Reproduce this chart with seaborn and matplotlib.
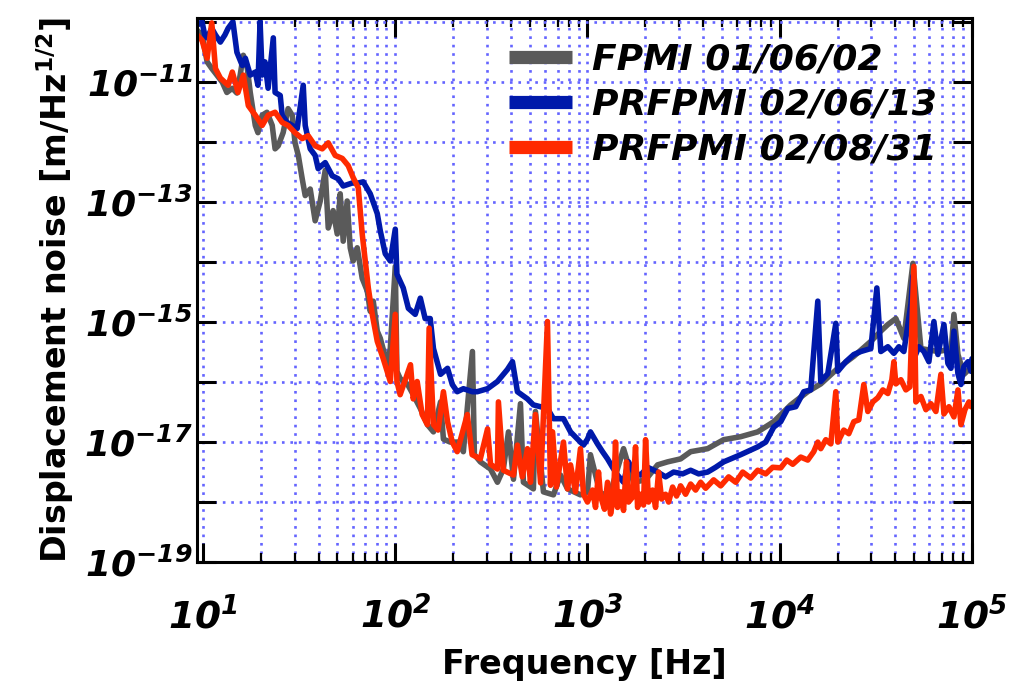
import numpy as np
import pandas as pd
import seaborn as sns
import matplotlib
matplotlib.use("Agg")
import matplotlib.pyplot as plt
from matplotlib import ticker

SERIES = ["FPMI 01/06/02", "PRFPMI 02/06/13", "PRFPMI 02/08/31"]
COLORS = ["#5a5a5a", "#0019aa", "#ff2a00"]

# frequencies in Hz, noise given as log10 of m/Hz^(1/2)
fpmi_freq = [
    9.3, 9.88, 10.5, 11.1, 11.8, 12.6, 13.3, 14.2, 15.0, 15.6, 16.2, 17.0, 17.6, 18.7,
    19.3, 20.3, 21.5, 22.9, 23.7, 24.6, 26.1, 27.7, 29.1, 30.1, 31.3, 32.8, 34.0, 36.1,
    38.3, 40.7, 43.2, 44.8, 47.5, 49.9, 51.7, 53.6, 56.2, 58.3, 60.4, 63.4, 67.3, 71.5,
    74.1, 76.8, 80.6, 83.6, 90.9, 94.2, 100, 102, 106, 116, 124, 135, 147, 158, 172,
    178, 193, 213, 226, 252, 258, 277, 313, 340, 365, 388, 412, 448, 464, 523, 536, 590,
    665, 724, 787, 919, 1000, 1036, 1169, 1318, 1540, 1736, 2005, 2315, 2610, 3051,
    3440, 4217, 5109, 6266, 7680, 9308, 11410, 13990, 16350, 20050, 24290, 29790,
    33570, 36520, 40200, 44240, 49300, 54270, 66510, 78000, 80590, 84560, 90840, 100000,
]
fpmi_log_asd = [
    -10.13, -10.21, -10.66, -10.77, -10.88, -11.00, -11.17, -11.10, -11.18, -10.88,
    -10.55, -10.77, -11.17, -11.72, -11.84, -11.55, -11.50, -11.72, -12.11, -12.06,
    -11.84, -11.44, -11.55, -12.01, -12.22, -12.61, -12.89, -12.78, -13.31, -12.98,
    -12.47, -13.43, -13.14, -13.53, -12.86, -13.65, -12.98, -13.76, -13.98, -13.76,
    -14.27, -14.48, -14.82, -14.65, -15.15, -15.27, -15.71, -15.44, -14.07, -15.82,
    -15.94, -16.04, -16.21, -16.44, -16.71, -16.83, -16.33, -16.95, -17.00, -17.00,
    -17.16, -15.49, -17.21, -17.33, -17.45, -17.67, -17.45, -16.83, -17.62, -16.36,
    -17.67, -17.78, -16.49, -17.83, -17.88, -17.55, -17.78, -17.88, -17.83, -17.21,
    -17.88, -17.83, -17.11, -17.67, -17.63, -17.38, -17.33, -17.28, -17.16, -17.11,
    -16.96, -16.91, -16.83, -16.66, -16.38, -16.16, -16.03, -15.77, -15.57, -15.32,
    -15.15, -15.04, -14.94, -15.27, -14.02, -15.44, -15.49, -15.45, -14.87, -15.54,
    -15.87, -15.74,
]

prfpmi_jun_freq = [
    9.3, 9.88, 10.2, 10.5, 11.1, 11.6, 12.3, 13.0, 13.5, 14.3, 15.0, 16.0, 16.6, 17.6,
    18.7, 19.3, 19.8, 20.3, 21.0, 21.8, 23.2, 23.7, 25.2, 25.8, 27.4, 29.1, 30.9, 33.2,
    34.0, 36.1, 38.3, 39.7, 43.2, 47.0, 50.5, 53.6, 59.7, 64.2, 68.1, 74.1, 80.6, 83.6,
    88.7, 94.2, 100, 102, 110, 117, 127, 135, 143, 152, 158, 172, 187, 198, 210, 226,
    252, 267, 302, 340, 383, 407, 432, 487, 523, 619, 665, 750, 816, 887, 953, 1000,
    1036, 1127, 1197, 1271, 1349, 1433, 1540, 1635, 1736, 1888, 2054, 2315, 2548, 2805,
    3125, 3440, 3786, 4217, 4642, 5109, 6266, 7680, 8456, 9308, 10120, 11010, 12120,
    13340, 14500, 15780, 16350, 17780, 19580, 20050, 22070, 24290, 26420, 29790,
    32010, 33570, 36520, 39250, 41680, 44240, 48130, 49300, 49890, 52970, 56230,
    59700, 63400, 66510, 71500, 74990, 77740, 80590, 84560, 87640, 90840, 95330,
    98800, 100000,
]
prfpmi_jun_log_asd = [
    -10.05, -9.99, -10.21, -10.26, -10.10, -10.21, -10.33, -10.21, -10.10, -9.99,
    -10.50, -10.72, -10.60, -10.88, -10.83, -11.05, -9.99, -10.88, -10.66, -11.10,
    -10.26, -11.17, -11.22, -11.55, -11.67, -11.72, -11.77, -11.05, -11.72, -12.11,
    -12.22, -12.44, -12.34, -12.56, -12.61, -12.73, -12.68, -12.68, -12.66, -12.86,
    -13.19, -13.48, -13.86, -13.98, -13.45, -14.20, -14.43, -14.77, -14.87, -14.60,
    -14.94, -14.94, -15.44, -15.87, -15.77, -16.04, -16.16, -16.11, -16.16, -16.16,
    -16.11, -15.99, -15.79, -15.66, -16.16, -16.28, -16.38, -16.44, -16.61, -16.61,
    -16.83, -16.95, -17.05, -16.95, -16.83, -17.03, -17.16, -17.28, -17.42, -17.55,
    -17.67, -17.33, -17.50, -17.55, -17.42, -17.50, -17.58, -17.50, -17.53, -17.47,
    -17.53, -17.50, -17.42, -17.33, -17.21, -17.08, -17.00, -16.75, -16.66, -16.44,
    -16.41, -16.16, -16.13, -14.65, -15.99, -15.86, -15.02, -15.82, -15.66, -15.54,
    -15.49, -15.44, -14.43, -15.49, -15.41, -15.52, -15.41, -15.49, -14.70, -14.23,
    -15.61, -15.41, -15.49, -15.66, -14.99, -15.54, -15.04, -15.69, -15.77, -15.15,
    -15.86, -16.04, -15.74, -15.66, -15.82, -15.61,
]

prfpmi_aug_freq = [
    9.3, 9.88, 10.5, 11.1, 11.6, 12.3, 13.5, 14.2, 15.2, 16.2, 17.2, 18.7, 20.3, 21.8,
    23.7, 25.8, 27.7, 30.1, 32.8, 35.2, 38.3, 41.7, 44.8, 48.7, 53.0, 56.9, 60.4, 64.2,
    65.7, 67.3, 69.8, 72.4, 75.9, 80.6, 86.6, 94.2, 100, 102, 106, 120, 124, 130, 138,
    147, 150, 158, 167, 178, 187, 198, 210, 237, 251, 277, 302, 313, 340, 344, 365,
    412, 432, 458, 487, 505, 536, 570, 619, 642, 658, 689, 750, 787, 816, 866, 919,
    953, 1000, 1062, 1101, 1141, 1169, 1226, 1271, 1318, 1366, 1399, 1433, 1486, 1540,
    1596, 1635, 1715, 1778, 1822, 1888, 1957, 2005, 2078, 2180, 2260, 2343, 2429, 2548,
    2642, 2772, 2907, 3051, 3239, 3440, 3652, 3877, 4117, 4532, 4930, 5425, 5902,
    6418, 7063, 7680, 8456, 9193, 10120, 10880, 11690, 12860, 13990, 15030, 15780,
    16350, 17370, 18440, 19580, 20050, 21540, 22870, 24290, 25790, 27380, 28730,
    30510, 32390, 34400, 36520, 38310, 39250, 40200, 42680, 45320, 47540, 49890,
    51090, 54270, 57610, 61160, 64940, 68940, 71500, 75900, 80590, 84560, 87640,
    91930, 96470, 99000,
]
prfpmi_aug_log_asd = [
    -10.21, -10.30, -10.60, -10.01, -10.77, -10.93, -11.05, -10.83, -11.17, -10.88,
    -11.39, -11.55, -11.72, -11.55, -11.50, -11.67, -11.72, -11.84, -11.94, -11.89,
    -12.06, -12.11, -12.01, -12.22, -12.27, -12.39, -12.59, -12.76, -13.14, -13.53,
    -13.98, -14.43, -14.87, -15.32, -15.61, -15.99, -14.87, -15.99, -16.21, -15.71,
    -16.28, -15.99, -16.54, -16.71, -15.10, -16.71, -16.80, -16.16, -16.66, -17.00,
    -17.16, -16.54, -17.21, -17.28, -16.78, -17.37, -17.45, -16.33, -17.47, -17.55,
    -17.05, -17.58, -17.11, -17.67, -16.54, -17.68, -14.99, -17.72, -16.83, -17.75,
    -17.00, -17.78, -17.38, -17.83, -17.11, -17.87, -18.00, -17.80, -18.09, -17.50,
    -17.90, -18.12, -17.67, -18.20, -17.92, -17.00, -18.09, -17.83, -18.14, -17.33,
    -18.00, -17.92, -17.08, -18.09, -17.87, -18.05, -16.96, -18.00, -17.80, -18.09,
    -17.50, -17.95, -17.87, -18.00, -17.75, -17.90, -17.73, -17.87, -17.70, -17.80,
    -17.67, -17.77, -17.63, -17.73, -17.58, -17.67, -17.50, -17.60, -17.47, -17.53,
    -17.42, -17.43, -17.30, -17.37, -17.25, -17.30, -17.16, -17.00, -17.11, -16.96,
    -17.03, -16.16, -17.00, -16.80, -16.86, -16.66, -16.63, -16.04, -16.49, -16.33,
    -16.26, -16.13, -16.19, -15.96, -15.66, -16.03, -15.96, -16.13, -16.08, -14.07,
    -16.33, -16.24, -16.46, -16.36, -16.49, -15.87, -16.53, -16.41, -16.58, -16.13,
    -16.71, -16.46, -16.33, -16.41,
]


def build_frame():
    freqs = [fpmi_freq, prfpmi_jun_freq, prfpmi_aug_freq]
    levels = [fpmi_log_asd, prfpmi_jun_log_asd, prfpmi_aug_log_asd]
    frames = []
    for name, f, a in zip(SERIES, freqs, levels):
        frames.append(pd.DataFrame({"freq": f, "asd": 10.0 ** np.asarray(a), "run": name}))
    return pd.concat(frames, ignore_index=True)


def decade_label(v, pos, odd_only=False):
    e = int(round(np.log10(v)))
    if odd_only and e % 2 == 0:
        return ""
    if e < -19 or e > 5 and not odd_only:
        return ""
    return r"$\mathbf{10^{%d}}$" % e


def main():
    sns.set_style("ticks")
    plt.rcParams["font.family"] = ["DejaVu Sans"]
    plt.rcParams["mathtext.fontset"] = "custom"
    plt.rcParams["mathtext.bf"] = "DejaVu Sans:bold:italic"
    plt.rcParams["mathtext.rm"] = "DejaVu Sans:bold"
    plt.rcParams["text.color"] = "black"
    plt.rcParams["axes.labelcolor"] = "black"
    plt.rcParams["xtick.color"] = "black"
    plt.rcParams["ytick.color"] = "black"

    df = build_frame()

    fig = plt.figure(figsize=(10.17, 6.89), dpi=100)
    ax = fig.add_axes([0.1937, 0.1843, 0.7620, 0.7896])
    sns.lineplot(data=df, x="freq", y="asd", hue="run", hue_order=SERIES,
                 palette=COLORS, linewidth=4, estimator=None, ax=ax)
    ax.set_xscale("log")
    ax.set_yscale("log")
    ax.set_xlim(9.3, 1.0e5)
    ax.set_ylim(1e-19, 1.18e-10)

    ax.xaxis.set_major_locator(ticker.LogLocator(base=10, numticks=20))
    ax.xaxis.set_minor_locator(ticker.LogLocator(base=10, subs=np.arange(2, 10), numticks=20))
    ax.xaxis.set_major_formatter(ticker.FuncFormatter(decade_label))
    ax.xaxis.set_minor_formatter(ticker.NullFormatter())
    ax.yaxis.set_major_locator(ticker.FixedLocator([10.0 ** e for e in range(-19, -9)]))
    ax.yaxis.set_minor_locator(ticker.NullLocator())
    ax.yaxis.set_major_formatter(ticker.FuncFormatter(lambda v, p: decade_label(v, p, True)))

    grid_kw = dict(color="#6464ff", linestyle=(0, (1, 2.2)), linewidth=1.9)
    ax.grid(True, which="major", axis="both", **grid_kw)
    ax.grid(True, which="minor", axis="x", **grid_kw)
    ax.set_axisbelow(True)

    for s in ax.spines.values():
        s.set_linewidth(2.2)
        s.set_color("black")
    ax.tick_params(which="both", direction="in", top=True, right=True, color="black")
    ax.tick_params(which="major", length=14, width=2.2)
    ax.tick_params(which="minor", length=6.5, width=1.6)
    ax.tick_params(axis="x", which="major", labelsize=27, pad=25)
    ax.tick_params(axis="y", which="major", labelsize=26, pad=3)

    ax.set_xlabel("Frequency [Hz]", fontsize=24, fontweight="bold", labelpad=8)
    ax.set_ylabel(r"Displacement noise [m/Hz$^{\mathrm{1/2}}$]", fontsize=24,
                  fontweight="bold", labelpad=6)

    old = ax.get_legend()
    handles = old.legend_handles
    labels = [t.get_text() for t in old.get_texts()]
    leg = ax.legend(handles, labels, loc="upper left", bbox_to_anchor=(0.4026, 0.955),
                    frameon=False, borderpad=0, borderaxespad=0, handlelength=1.75,
                    handletextpad=0.55, labelspacing=0.31,
                    prop=dict(family="DejaVu Sans", weight="bold", style="italic", size=26))
    for line in leg.get_lines():
        line.set_linewidth(9.5)
        line.set_solid_capstyle("butt")

    fig.savefig("out.png", dpi=100)


if __name__ == "__main__":
    main()
